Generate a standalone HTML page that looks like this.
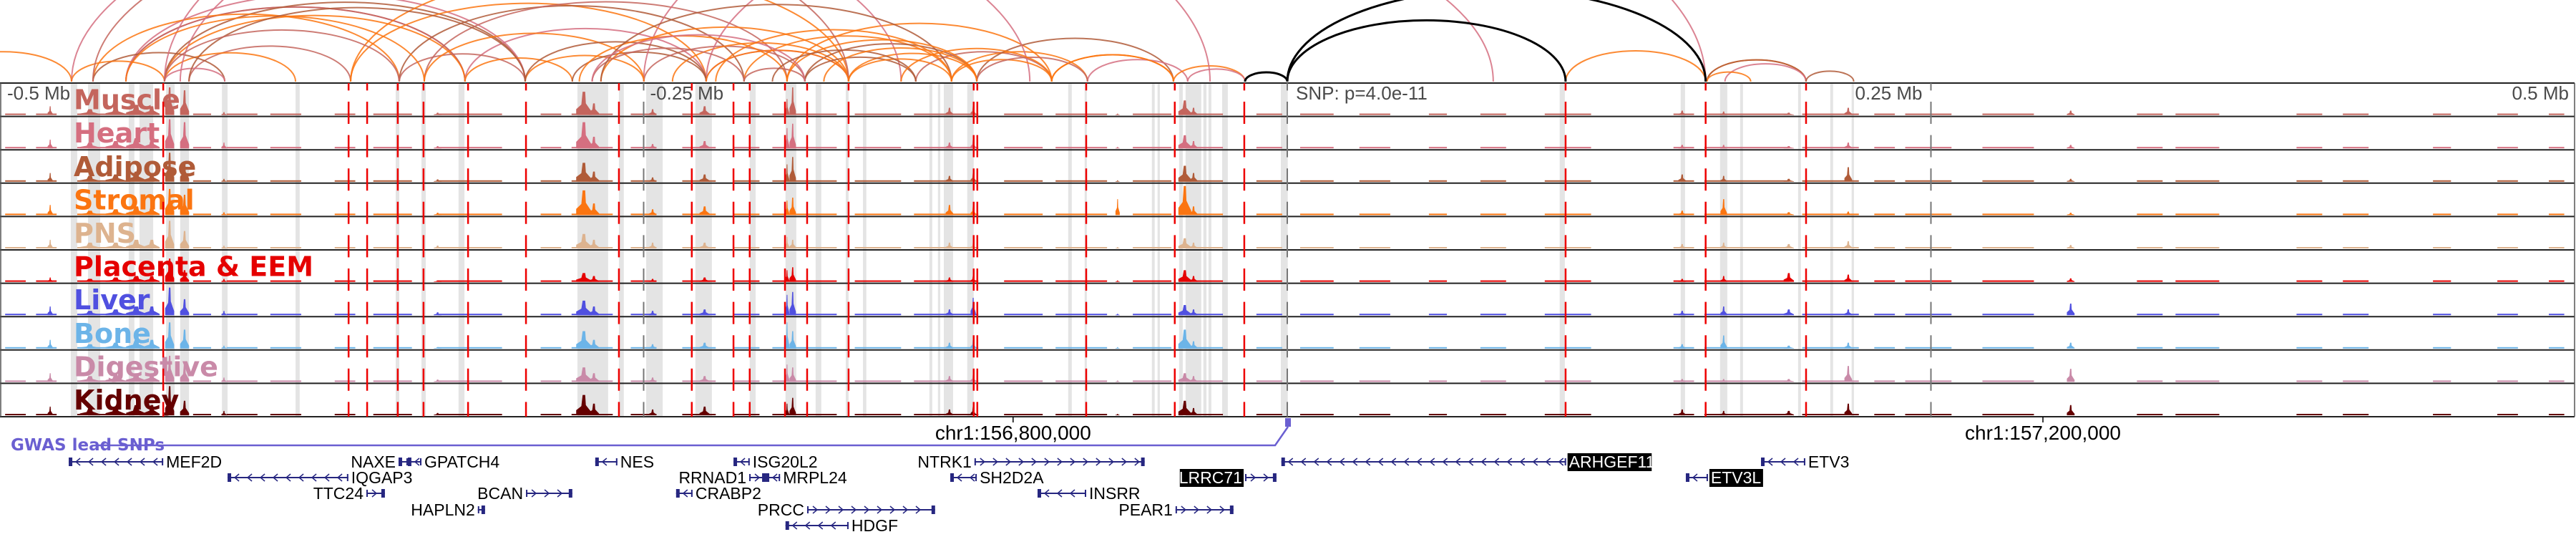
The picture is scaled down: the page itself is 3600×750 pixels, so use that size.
<!DOCTYPE html>
<html><head><meta charset="utf-8"><title>Genome browser</title>
<style>
html,body{margin:0;padding:0;background:#fff;}
svg{display:block;}
</style></head>
<body>
<svg id="chart" width="3600" height="750" viewBox="0 0 3600 750" xmlns="http://www.w3.org/2000/svg">
  <g id="arcs"></g>
  <g id="bands"></g>
  <g id="labels"></g>
  <g id="signals"></g>
  <g id="borders"></g>
  <g id="vlines"></g>
  <g id="axis"></g>
  <g id="genes"></g>
</svg>
<script>
// ---- data (genomic offsets in kb relative to lead SNP) ----
const tissues = ["Muscle","Heart","Adipose","Stromal","PNS","Placenta & EEM","Liver","Bone","Digestive","Kidney"];
const tissueColors = ["#c4655d","#d56f80","#b05b38","#fb7511","#ddb38f","#e50000","#5050e0","#6cb4e8","#c98aa8","#650000"];
const peakPos = [-480.5,-465,-455,-447,-441,-434.1,-428.3,-413,-330,-273.2,-269.3,-246.5,-226.3,-194.3,-192.1,-131.2,-122,-65.9,-39.8,-36.4,153.4,169.5,194.8,217.9,304.3];
const peakWidth = [2,8,8,8,6,3.5,3.5,2,3,6,4,3,4,1.6,2.5,3,2,1.6,5,3,3,2.5,4,3,3];
const muscleH   = [.3,.2,.25,.35,.3,.95,.85,.1,.08,.8,.4,.2,.3,.55,.95,.25,.3,.05,.5,.25,.15,.12,.08,.25,.15];
const heartH    = [.3,.2,.25,.35,.3,1,.9,.2,.08,.9,.4,.15,.25,.7,.85,.2,.3,.05,.45,.25,.12,.12,.08,.2,.12];
const adiposeH  = [.3,.2,.25,.35,.3,1,.7,.1,.08,.65,.35,.15,.25,.6,.85,.2,.3,.05,.55,.3,.25,.2,.1,.5,.1];
const stromalH  = [.35,.15,.2,.3,.3,.9,.7,.1,.08,.85,.4,.2,.3,.5,.6,.35,.3,.55,1,.3,.15,.55,.1,.12,.08];
const pnsH      = [.3,.2,.2,.3,.3,.95,.6,.1,.1,.5,.3,.2,.2,.4,.3,.2,.2,.05,.35,.2,.15,.2,.15,.25,.12];
const placentaH = [.15,.1,.15,.2,.2,.8,.4,.1,.05,.3,.2,.1,.15,.4,.5,.15,.2,.05,.4,.2,.1,.2,.3,.25,.12];
const liverH    = [.3,.15,.2,.3,.3,.95,.55,.15,.1,.5,.3,.15,.2,.7,.8,.2,.6,.05,.35,.2,.15,.3,.2,.2,.4];
const boneH     = [.3,.15,.2,.3,.3,.9,.65,.1,.05,.6,.3,.15,.2,.9,.6,.2,.3,.05,.65,.25,.15,.45,.1,.2,.2];
const digestiveH= [.3,.2,.25,.3,.3,.9,.6,.15,.08,.5,.3,.15,.2,.6,.5,.2,.25,.05,.3,.2,.1,.1,.1,.55,.45];
const kidneyH   = [.3,.25,.3,.35,.35,1,.5,.15,.08,.7,.4,.2,.3,.4,.6,.2,.3,.05,.5,.25,.2,.15,.15,.4,.35];
const baselineSegs = [[-498,-490],[-486,-478],[-470,-440],[-425,-418],[-412,-400],[-395,-383],[-370,-362],[-355,-340],[-330,-305],[-290,-282],[-278,-262],[-255,-245],[-235,-222],[-215,-205],[-200,-175],[-168,-150],[-145,-120],[-110,-95],[-90,-70],[-60,-45],[-42,-25],[-12,-2],[5,18],[28,40],[55,62],[75,85],[100,118],[150,158],[162,195],[200,222],[228,236],[240,258],[270,290],[330,340],[345,362],[392,402],[410,420],[445,452],[470,478],[490,496]];
const bandStart = [-472.5,-465.8,-450,-445.8,-435.5,-430,-413.8,-385.2,-346.3,-336.3,-321.9,-275.7,-259.6,-249,-229.9,-208.8,-194.9,-183.2,-171.5,-164.8,-139,-135.7,-133.4,-124.3,-85.1,-78.7,-52.6,-50.4,-42,-39.5,-32.6,-30.6,-25.3,-2.5,105.8,152.8,168.1,175.9,198.4,210.9,219.2];
const bandEnd   = [-470,-461.1,-447.8,-440.5,-432.2,-426.6,-411.6,-383.6,-344.9,-334.6,-319.6,-263.8,-257.7,-242.6,-223.5,-206.5,-190.7,-181,-170.4,-163.5,-137.9,-134.8,-129.8,-121.8,-83.7,-77.9,-51.5,-49.5,-40.6,-33.4,-31.4,-29.5,-23.1,0.2,107.8,154.5,170.9,177,199.5,212,220.1];
const snpLines = [-436.6,-364.6,-357.4,-345.5,-335.5,-318.2,-295.7,-259.6,-231.3,-215.1,-208.8,-195.1,-186.5,-170.4,-121.8,-120.4,-78.1,-43.7,-16.7,108.1,162.5,201.5];
const arcStart = [-451.1,-451.1,-436.1,-436.1,-451.1,-463.9,-426.6,-436.1,-463.9,-472.2,-436.1,-363.8,-344.9,-363.8,-335.2,-319.4,-296,-344.9,-319.4,-277.7,-266.6,-249.9,-238.8,-225.7,-211,-194.3,-187.4,-170.4,-144.3,-130.4,-120.6,-91.5,-77.6,-44.2,-38.7,-472.2,-463.9,-430,-436.1,-225.7,-525,-250,163,163,170,201.5,163,108.1,
  -451.1,-426.6,-436.1,-335.2,-296,-275,-270,-266.6,-225.7,-211,-194.3,-187.4,-170.4,-130.4,-120.6,-91.5,-270,-222,-200,-180,-150];
const arcEnd   = [-319.4,-319.4,-319.4,-296,-296,-344.9,-363.8,-385.2,-412.7,-436.1,-412.7,-225.7,-211,-170.4,-194.3,-225.7,-249.9,-296,-277.7,-225.7,-170.4,-187.4,-170.4,-170.4,-130.4,-91.5,-120.6,-120.6,-91.5,-77.6,-44.2,-44.2,-38.7,-16.4,-16.4,-150,-170.4,-100,-30,80,-472.2,162.5,201.5,201.5,201.5,220,180,162.5,
  -335.2,-296,-345,-249.9,-225.7,-194.3,-211,-130.4,-170.4,-187.4,-120.6,-144.3,-130.4,-91.5,-77.6,-44.2,-187.4,-130.4,-144.3,-120.6,-91.5];
const arcTissue= [1,0,3,2,1,3,0,3,2,3,1,3,2,3,0,1,3,0,3,2,3,0,3,1,3,3,2,3,0,3,2,3,1,3,1,1,0,1,1,1,3,1,3,2,1,2,3,3,
  3,2,0,3,2,3,0,2,3,0,3,2,3,3,0,3,1,3,2,3,3];
const blackArcStart = [-16.4,0,0];
const blackArcEnd   = [0,108.1,162.5];
const geneNames = ["MEF2D","NAXE","GPATCH4","NES","ISG20L2","NTRK1","ARHGEF11","ETV3","IQGAP3","RRNAD1","MRPL24","SH2D2A","LRRC71","ETV3L","TTC24","BCAN","CRABP2","INSRR","HAPLN2","PRCC","PEAR1","HDGF"];
const geneStart = [-473.3,-345.2,-341.6,-268.8,-215.1,-121.5,-2.3,184,-411.6,-209,-202.6,-130.9,-16.4,154.8,-357.7,-295.7,-237.4,-97,-314.4,-186.5,-43.4,-194.9];
const geneEnd   = [-436.6,-341.6,-336.3,-260.2,-208.8,-55.4,108.3,201.2,-364.7,-202.6,-197,-120.6,-4.2,163.4,-350.5,-277.7,-231,-78.1,-311.6,-136.8,-20.9,-170.4];
const geneRow   = [0,0,0,0,0,0,0,0,1,1,1,1,1,1,2,2,2,2,3,3,3,4];
const geneStrand= [-1,-1,-1,-1,-1,1,-1,-1,-1,1,-1,-1,1,-1,1,1,-1,-1,1,1,1,-1];
const geneLabelLeft = [0,1,0,0,0,1,0,0,0,1,0,0,1,0,1,1,0,0,1,1,1,0];
const geneHighlight = [0,0,0,0,0,0,1,0,0,0,0,0,1,1,0,0,0,0,0,0,0,0];
const axisTickKb = [-250,0,250];
const coordLabels = ["chr1:156,800,000","chr1:157,200,000"];
const coordKb = [-106.5,293.5];

const trackHeights = [muscleH,heartH,adiposeH,stromalH,pnsH,placentaH,liverH,boneH,digestiveH,kidneyH];

// ---- scales ----
const W = 3598, TOP = 116, ROWH = 46.6;
function X(kb){ return (kb + 500) / 1000 * W; }
function rowTop(i){ return TOP + i * ROWH; }
const NS = "http://www.w3.org/2000/svg";
function mk(tag, attrs, parent){ const e = document.createElementNS(NS, tag); for (const k in attrs) e.setAttribute(k, attrs[k]); parent.appendChild(e); return e; }

// ---- arcs ----
const gArcs = document.getElementById('arcs');
const ARC_BASE = 114;
for (let i = 0; i < arcStart.length; i++) {
  const x1 = X(arcStart[i]), x2 = X(arcEnd[i]);
  const rx = Math.abs(x2 - x1) / 2, ry = Math.abs(x2 - x1) * 0.22;
  const p = mk('path', {d:`M${x1} ${ARC_BASE} A${rx} ${ry} 0 0 1 ${x2} ${ARC_BASE}`, fill:'none', stroke:tissueColors[arcTissue[i]], 'stroke-width':2, 'stroke-opacity':0.85}, gArcs);
  
  
}
for (let i = 0; i < blackArcStart.length; i++) {
  const x1 = X(blackArcStart[i]), x2 = X(blackArcEnd[i]);
  const rx = (x2 - x1) / 2, ry = (x2 - x1) * 0.22;
  const p = mk('path', {d:`M${x1} ${ARC_BASE} A${rx} ${ry} 0 0 1 ${x2} ${ARC_BASE}`, fill:'none', stroke:'#000', 'stroke-width':3}, gArcs);
  
  
}

// ---- bands ----
const gBands = document.getElementById('bands');
for (let i = 0; i < bandStart.length; i++) {
  const r = mk('rect', {x:X(bandStart[i]), y:TOP, width:Math.max(3, X(bandEnd[i]) - X(bandStart[i])), height:ROWH*10, fill:'#e4e4e4'}, gBands);
  
  
}

// ---- track labels ----
const gLabels = document.getElementById('labels');
for (let t = 0; t < tissues.length; t++) {
  const tx = mk('text', {x:103, y:rowTop(t) + ROWH - 10, fill:tissueColors[t], 'font-family':'"DejaVu Sans", sans-serif', 'font-weight':'bold', 'font-size':38}, gLabels);
  tx.textContent = tissues[t];
  
  
}

// ---- signals ----
const gSig = document.getElementById('signals');
for (let t = 0; t < tissues.length; t++) {
  const base = rowTop(t) + ROWH - 2, H = ROWH - 6;
  const g = mk('g', {fill:tissueColors[t]}, gSig);
  
  
  for (const s of baselineSegs) {
    const r = mk('rect', {x:X(s[0]), y:base - 2, width:X(s[1]) - X(s[0]), height:2}, g);
    
    
  }
  const hs = trackHeights[t];
  for (let i = 0; i < peakPos.length; i++) {
    const c = X(peakPos[i]), w = Math.max(6, X(peakWidth[i]) - X(0)), h = hs[i] * H;
    const d = `M${c-w/2} ${base} L${c-w/2} ${base-h*0.25} L${c-w/6} ${base-h*0.45} L${c-w/12} ${base-h} L${c+w/12} ${base-h} L${c+w/8} ${base-h*0.5} L${c+w/3} ${base-h*0.3} L${c+w/2} ${base-h*0.15} L${c+w/2} ${base} Z`;
    const p = mk('path', {d}, g);
    
    
  }
}

// ---- borders ----
const gB = document.getElementById('borders');
mk('line', {x1:0, y1:TOP, x2:W, y2:TOP, stroke:'#222', 'stroke-width':2}, gB);
for (let t = 0; t < tissues.length; t++) {
  const y = rowTop(t) + ROWH;
  const l = mk('line', {x1:0, y1:y, x2:W, y2:y, stroke:'#222', 'stroke-width':2}, gB);
  
  
}
mk('line', {x1:1, y1:TOP, x2:1, y2:rowTop(10), stroke:'#555', 'stroke-width':1.5}, gB);
mk('line', {x1:W, y1:TOP, x2:W, y2:rowTop(10), stroke:'#555', 'stroke-width':1.5}, gB);

// ---- vertical lines ----
const gV = document.getElementById('vlines');
for (const kb of axisTickKb) {
  const l = mk('line', {x1:X(kb), y1:TOP, x2:X(kb), y2:rowTop(10), stroke:'#777', 'stroke-width':2, 'stroke-dasharray':'31 15.6', 'stroke-dashoffset':20.6}, gV);
  
  
}
for (const kb of snpLines) {
  const l = mk('line', {x1:X(kb), y1:TOP, x2:X(kb), y2:rowTop(10), stroke:'#ee0000', 'stroke-width':2.5, 'stroke-dasharray':'31 15.6', 'stroke-dashoffset':20.6}, gV);
  
  
}

// ---- axis labels ----
const gA = document.getElementById('axis');
function axText(str, x, anchor, name) {
  const t = mk('text', {x, y:139, 'text-anchor':anchor, fill:'#4a4a4a', 'font-family':'"Liberation Sans", sans-serif', 'font-size':26}, gA);
  t.textContent = str;
  
  
}
axText('-0.5 Mb', 10, 'start', 'axis-label-minus-half');
axText('-0.25 Mb', X(-250) + 9, 'start', 'axis-label-minus-quarter');
axText('SNP: p=4.0e-11', X(0) + 12, 'start', 'snp-pvalue-label');
axText('0.25 Mb', X(250) - 12, 'end', 'axis-label-quarter');
axText('0.5 Mb', 3590, 'end', 'axis-label-half');

// coordinate labels
for (let i = 0; i < coordLabels.length; i++) {
  const cx = X(coordKb[i]);
  const tk = mk('line', {x1:cx, y1:rowTop(10), x2:cx, y2:rowTop(10) + 8, stroke:'#000', 'stroke-width':1.5}, gA);
  
  
  const t = mk('text', {x:cx, y:614, 'text-anchor':'middle', fill:'#000', 'font-family':'"Liberation Sans", sans-serif', 'font-size':28}, gA);
  t.textContent = coordLabels[i];
  
  
}

// ---- genes ----
const gG = document.getElementById('genes');
const gw = mk('text', {x:15, y:629, fill:'#6a5fd1', 'font-family':'"DejaVu Sans", sans-serif', 'font-weight':'bold', 'font-size':23}, gG);
gw.textContent = 'GWAS lead SNPs';


const gwl = mk('path', {d:`M133 622 L${X(0)-17} 622 L${X(0)+1} 596`, fill:'none', stroke:'#6a5fd1', 'stroke-width':2.5}, gG);


const gwm = mk('rect', {x:X(0)-3, y:584, width:8, height:12, fill:'#6a5fd1'}, gG);



const rowY = [645, 667, 689, 712, 734];
const geneColor = '#262680';
for (let i = 0; i < geneNames.length; i++) {
  const x1 = X(geneStart[i]), x2 = X(geneEnd[i]), y = rowY[geneRow[i]];
  const g = mk('g', {}, gG);
  
  
  mk('line', {x1, y1:y, x2, y2:y, stroke:geneColor, 'stroke-width':2}, g);
  const s = geneStrand[i];
  for (let cx = x1 + 12; cx < x2 - 6; cx += 18) {
    mk('polyline', {points: s < 0 ? `${cx+4},${y-5} ${cx-2},${y} ${cx+4},${y+5}` : `${cx-4},${y-5} ${cx+2},${y} ${cx-4},${y+5}`, fill:'none', stroke:geneColor, 'stroke-width':1.5}, g);
  }
  const ex = s < 0 ? x1 : x2 - 5;
  mk('rect', {x:ex, y:y-6, width:5, height:12, fill:geneColor}, g);
  mk('rect', {x:s < 0 ? x2 - 2 : x1, y:y-5, width:2, height:10, fill:geneColor}, g);
  const left = geneLabelLeft[i] === 1;
  const lx = left ? x1 - 4 : x2 + 4;
  const fs = 23;
  const approxW = geneNames[i].length * 14.2;
  if (geneHighlight[i]) {
    mk('rect', {x: left ? lx - approxW - 2 : lx - 2, y:y-12, width:approxW + 4, height:25, fill:'#000'}, g);
  }
  const t = mk('text', {x:lx, y:y + 8, 'text-anchor': left ? 'end' : 'start', fill: geneHighlight[i] ? '#fff' : '#000', 'font-family':'"Liberation Sans", sans-serif', 'font-size':fs}, g);
  t.textContent = geneNames[i];
  
  
}
</script>
</body></html>
